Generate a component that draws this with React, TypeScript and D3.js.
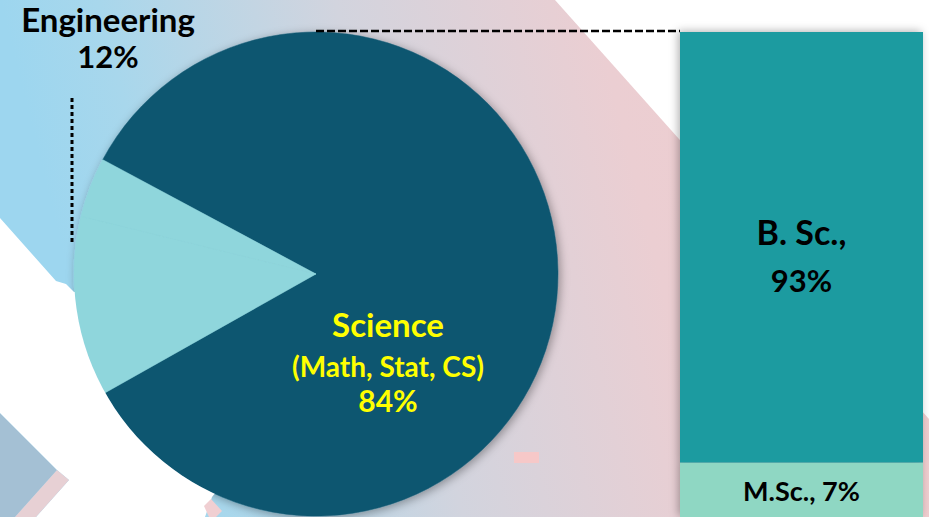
import React from "react";
import * as d3 from "d3";

const W = 929;
const H = 517;

// Pie data (field of study)
const fields = ["Science", "Engineering", "Other"];
const fieldValues = [84, 12, 4];
const fieldColors = ["#0e5670", "#8fd6dc", "#8fd6dc"];

// Stacked bar data (degree level)
const degrees = ["M.Sc.", "B. Sc."];
const degreeValues = [7, 93];
const degreeColors = ["#8fd7c3", "#1e9ba0"];

const FONT = "Lato, 'Open Sans', sans-serif";

export default function App() {
  const cx = 316;
  const cy = 274;
  const r = 242;
  const pieData = fields.map((f, i) => ({ name: f, value: fieldValues[i], color: fieldColors[i] }));
  const pie = d3
    .pie<any>()
    .sort(null)
    .value((d: any) => d.value)
    .startAngle((-61.8 * Math.PI) / 180)
    .endAngle(((360 - 61.8) * Math.PI) / 180);
  const arcs = pie(pieData);
  const arc = d3.arc<any>().innerRadius(0).outerRadius(r);

  // bar
  const x = d3.scaleBand().domain(["Degree"]).range([680, 923]).padding(0);
  const y = d3.scaleLinear().domain([0, 100]).range([495, 32]);
  const row: any = { key: "Degree" };
  degrees.forEach((d, i) => (row[d] = degreeValues[i]));
  const stack = d3.stack<any>().keys(degrees)([row]);
  const bx = (x("Degree") as number) + x.bandwidth() / 2;

  return (
    <svg
      width={W}
      height={H}
      style={{ position: "absolute", left: 0, top: 0, display: "block" }}
      fontFamily={FONT}
    >
      <defs>
        <linearGradient id="bg" gradientUnits="userSpaceOnUse" x1={0} y1={0} x2={929} y2={-230}>
          <stop offset="0" stopColor="#9dd6ef" />
          <stop offset="0.1" stopColor="#a8d7ec" />
          <stop offset="0.34" stopColor="#d2d4de" />
          <stop offset="0.6" stopColor="#ebced2" />
          <stop offset="1" stopColor="#f4cccc" />
        </linearGradient>
        <filter id="pieShadow" x="-10%" y="-10%" width="120%" height="120%">
          <feDropShadow dx="2" dy="2" stdDeviation="5" floodColor="#000" floodOpacity="0.35" />
        </filter>
        <filter id="barShadow" x="-10%" y="-10%" width="120%" height="120%">
          <feDropShadow dx="-2" dy="-1" stdDeviation="4" floodColor="#000" floodOpacity="0.3" />
        </filter>
        <mask id="noPie">
          <rect x={0} y={0} width={W} height={H} fill="#fff" />
          <circle cx={cx} cy={cy} r={r} fill="#000" />
        </mask>
      </defs>

      {/* background */}
      <rect x={0} y={0} width={W} height={H} fill="url(#bg)" />
      <polygon points="555,0 929,0 929,419" fill="#ffffff" />
      <polygon points="0,413 57,470 15,517 0,517" fill="#a4c0d4" />
      <rect x={514} y={452} width={25} height={11} fill="#f6c8c8" />

      {/* pie */}
      <g transform={`translate(${cx},${cy})`} filter="url(#pieShadow)">
        {arcs.map((a: any, i: number) => (
          <path key={i} d={arc(a) as string} fill={a.data.color} stroke={a.data.color} strokeWidth={0.5} />
        ))}
      </g>

      {/* white decorative band over the pie shadow */}
      <g mask="url(#noPie)">
        <polygon
          points="0,218 56,281 66,284 74,292 200,300 250,450 212,497 205,517 36,517 69,480 57,470 0,413"
          fill="#ffffff"
        />
        <polygon points="57,470 69,480 36,517 15,517" fill="#e7d0d4" />
        <polygon points="204,506 211,499 222,511 216,517 209,517" fill="#f0cfd2" />
      </g>

      {/* bar */}
      <g filter="url(#barShadow)">
        {stack.map((s: any, i: number) =>
          s.map((d: any, j: number) => (
            <rect
              key={`${i}-${j}`}
              x={x("Degree")}
              width={x.bandwidth()}
              y={y(d[1])}
              height={(d[0] === 0 ? H : y(d[0])) - y(d[1])}
              fill={degreeColors[i]}
            />
          ))
        )}
      </g>

      {/* connector lines */}
      <line x1={cx} y1={31} x2={680} y2={31} stroke="#000" strokeWidth={2.5} strokeDasharray="8,3" />
      <line x1={72} y1={98} x2={72} y2={245} stroke="#000" strokeWidth={3} strokeDasharray="4,3" />

      {/* pie labels */}
      <text x={108} y={32} textAnchor="middle" fontSize={33} fontWeight={700} fill="#000">
        {fields[1]}
      </text>
      <text x={108} y={68} textAnchor="middle" fontSize={31} fontWeight={700} fill="#000">
        {fieldValues[1]}%
      </text>
      <text x={388} y={337} textAnchor="middle" fontSize={33} fontWeight={700} fill="#ffff00">
        {fields[0]}
      </text>
      <text x={388} y={377} textAnchor="middle" fontSize={28} fontWeight={700} fill="#ffff00">
        (Math, Stat, CS)
      </text>
      <text x={388} y={412} textAnchor="middle" fontSize={30} fontWeight={700} fill="#ffff00">
        {fieldValues[0]}%
      </text>

      {/* bar labels */}
      <text x={bx} y={245} textAnchor="middle" fontSize={34} fontWeight={700} fill="#000">
        {degrees[1]},
      </text>
      <text x={bx} y={292} textAnchor="middle" fontSize={31} fontWeight={700} fill="#000">
        {degreeValues[1]}%
      </text>
      <text x={bx} y={501} textAnchor="middle" fontSize={27} fontWeight={700} fill="#000">
        {degrees[0]}, {degreeValues[0]}%
      </text>
    </svg>
  );
}
